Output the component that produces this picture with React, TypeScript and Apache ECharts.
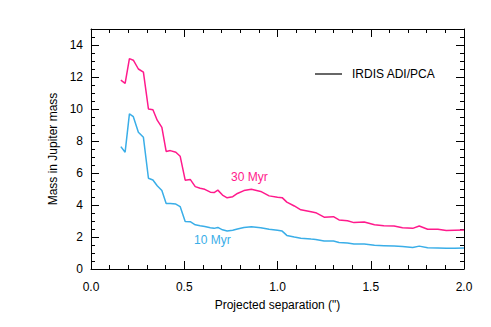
import React, { useEffect, useRef } from "react";
import * as echarts from "echarts";

const separation = [
  0.16, 0.183, 0.206, 0.227, 0.254, 0.281, 0.308, 0.332, 0.355, 0.38,
  0.403, 0.425, 0.455, 0.478, 0.505, 0.532, 0.559, 0.585, 0.61, 0.64,
  0.66, 0.68, 0.705, 0.73, 0.76, 0.785, 0.82, 0.86, 0.91, 0.955,
  1.0, 1.025, 1.05, 1.09, 1.125, 1.18, 1.205, 1.25, 1.3, 1.33,
  1.375, 1.41, 1.465, 1.52, 1.57, 1.625, 1.67, 1.725, 1.76, 1.805,
  1.86, 1.905, 1.95, 2.0,
];

const mass30Myr = [
  11.8, 11.6, 13.15, 13.05, 12.5, 12.3, 10.0, 9.95, 9.3, 8.85,
  7.35, 7.4, 7.3, 7.05, 5.55, 5.6, 5.15, 5.05, 4.98, 4.8,
  4.78, 4.93, 4.62, 4.45, 4.52, 4.72, 4.9, 4.98, 4.85, 4.57,
  4.48, 4.46, 4.18, 3.94, 3.7, 3.58, 3.52, 3.24, 3.27, 3.07,
  3.02, 2.9, 2.94, 2.77, 2.71, 2.69, 2.58, 2.54, 2.69, 2.48,
  2.48, 2.4, 2.42, 2.44,
];

const mass10Myr = [
  7.65, 7.3, 9.7, 9.52, 8.55, 8.23, 5.67, 5.56, 5.2, 4.9,
  4.1, 4.1, 4.06, 3.9, 2.97, 2.96, 2.76, 2.7, 2.65, 2.58,
  2.54, 2.6, 2.45, 2.37, 2.42, 2.5, 2.6, 2.64, 2.58, 2.48,
  2.42, 2.37, 2.1, 2.0, 1.92, 1.87, 1.85, 1.75, 1.75, 1.66,
  1.62, 1.56, 1.56, 1.48, 1.46, 1.44, 1.4, 1.35, 1.43, 1.33,
  1.31, 1.29, 1.29, 1.31,
];

const seriesNames = ["30 Myr", "10 Myr"];
const legendText = "IRDIS ADI/PCA";
const xTitle = 'Projected separation (")';
const yTitle = "Mass in Jupiter mass";

const MAGENTA = "#ff1a8c";
const CYAN = "#3aaee8";
const FONT = "Liberation Sans, Arial, sans-serif";

export default function App() {
  const ref = useRef<HTMLDivElement>(null);
  useEffect(() => {
    document.body.style.margin = "0";
    const chart = echarts.init(ref.current!, null, { renderer: "svg" });
    const axisLine = { show: true, onZero: false, lineStyle: { color: "#000", width: 1 } };
    const xCommon = {
      type: "value" as const,
      min: 0,
      max: 2,
      interval: 0.5,
      axisLine,
      axisTick: { show: true, inside: true, length: 8, lineStyle: { color: "#000" } },
      minorTick: { show: true, splitNumber: 5, length: 4, lineStyle: { color: "#000" } },
      splitLine: { show: false },
      minorSplitLine: { show: false },
    };
    const yCommon = {
      type: "value" as const,
      min: 0,
      max: 15,
      interval: 2,
      axisLine,
      axisTick: { show: true, inside: true, length: 8, lineStyle: { color: "#000" } },
      minorTick: { show: true, splitNumber: 4, length: 4, lineStyle: { color: "#000" } },
      splitLine: { show: false },
      minorSplitLine: { show: false },
    };
    chart.setOption({
      animation: false,
      backgroundColor: "#fff",
      textStyle: { fontFamily: FONT },
      grid: { left: 91, top: 29, width: 373, height: 240, containLabel: false },
      xAxis: [
        {
          ...xCommon,
          position: "bottom",
          name: xTitle,
          nameLocation: "middle",
          nameGap: 30,
          nameTextStyle: { color: "#000", fontSize: 12, fontFamily: FONT },
          axisLabel: {
            color: "#000",
            fontSize: 12,
            fontFamily: FONT,
            margin: 12,
            formatter: (v: number) => v.toFixed(1),
          },
        },
        {
          ...xCommon,
          position: "top",
          axisLabel: { show: false },
        },
      ],
      yAxis: [
        {
          ...yCommon,
          position: "left",
          name: yTitle,
          nameLocation: "middle",
          nameGap: 30,
          nameTextStyle: { color: "#000", fontSize: 12, fontFamily: FONT },
          axisLabel: {
            color: "#000",
            fontSize: 12,
            fontFamily: FONT,
            margin: 8,
            showMaxLabel: false,
            formatter: (v: number) => (v > 14 ? "" : String(v)),
          },
        },
        {
          ...yCommon,
          position: "right",
          axisLabel: { show: false },
        },
      ],
      series: [
        {
          name: seriesNames[0],
          type: "line",
          data: separation.map((x, i) => [x, mass30Myr[i]]),
          showSymbol: false,
          symbol: "none",
          lineStyle: { color: MAGENTA, width: 1.5 },
          itemStyle: { color: MAGENTA },
        },
        {
          name: seriesNames[1],
          type: "line",
          data: separation.map((x, i) => [x, mass10Myr[i]]),
          showSymbol: false,
          symbol: "none",
          lineStyle: { color: CYAN, width: 1.5 },
          itemStyle: { color: CYAN },
        },
      ],
      graphic: [
        {
          type: "line",
          shape: { x1: 315, y1: 74, x2: 342, y2: 74 },
          style: { stroke: "#000", lineWidth: 1.2 },
        },
        {
          type: "text",
          x: 352,
          y: 74,
          style: {
            text: legendText,
            fill: "#000",
            font: `12px ${FONT}`,
            verticalAlign: "middle",
            align: "left",
          },
        },
        {
          type: "text",
          x: 231,
          y: 177,
          style: {
            text: seriesNames[0],
            fill: MAGENTA,
            font: `12px ${FONT}`,
            verticalAlign: "middle",
            align: "left",
          },
        },
        {
          type: "text",
          x: 194,
          y: 240,
          style: {
            text: seriesNames[1],
            fill: CYAN,
            font: `12px ${FONT}`,
            verticalAlign: "middle",
            align: "left",
          },
        },
      ],
    });
    return () => chart.dispose();
  }, []);
  return (
    <div
      ref={ref}
      style={{ position: "fixed", left: 0, top: 0, width: 491, height: 327 }}
    />
  );
}
